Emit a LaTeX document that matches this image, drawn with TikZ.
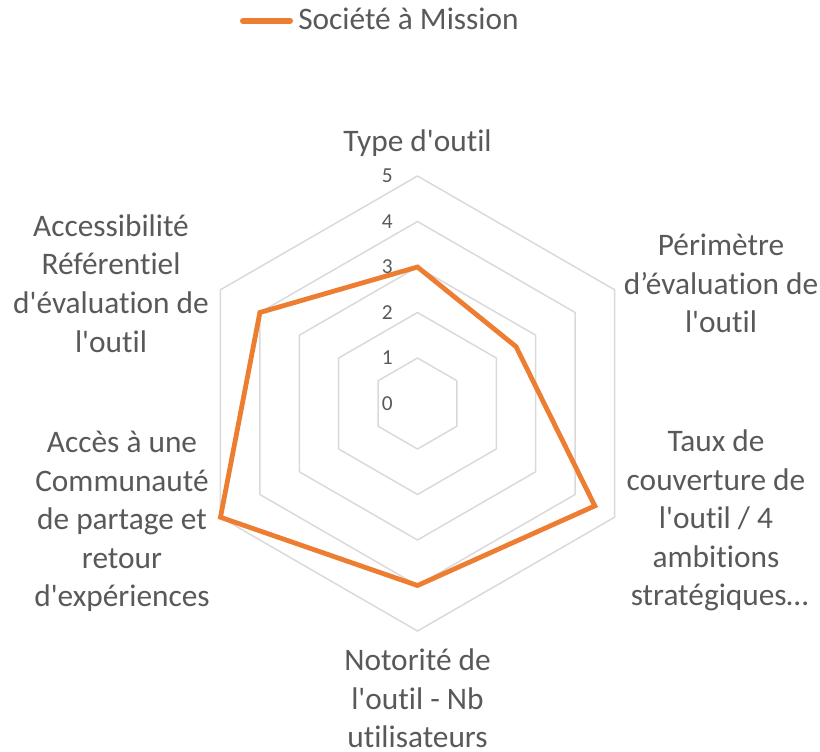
\documentclass[tikz,border=0pt]{standalone}
\usepackage{fontspec}
\setmainfont{Carlito}[Ligatures={TeXOff,NoCommon}]
\usetikzlibrary{positioning}

\definecolor{labelgrey}{HTML}{595959}
\definecolor{gridgrey}{HTML}{D9D9D9}
\definecolor{missionorange}{HTML}{ED7D31}

\tikzset{
	axislabel/.style={text=labelgrey,align=center,inner sep=0pt,font=\fontsize{23.5}{28.9}\selectfont},
	ticklabel/.style={text=labelgrey,anchor=east,inner sep=0pt,font=\fontsize{16}{19}\selectfont},
	gridline/.style={draw=gridgrey,line width=1.1pt,line join=round},
	seriesline/.style={draw=missionorange,line width=3.6pt}
}

\begin{document}
\begin{tikzpicture}[x=0.75pt,y=0.75pt]
		\useasboundingbox (0,0) rectangle (820,751);
		\coordinate (c) at (417.5,347.5);

		\foreach \v in {1,...,5}
			\draw[gridline,shift={(c)}] (90:\v*45.5) -- (30:\v*45.5) -- (-30:\v*45.5) -- (-90:\v*45.5) -- (-150:\v*45.5) -- (150:\v*45.5) -- cycle;
		\foreach \v in {0,...,5}
			\node[ticklabel] (tick\v) at ([shift={(-24.5,\v*45.5)}]c) {\v};

		\node[axislabel] (type) at (417.5,608) {Type d'outil};
		\node[axislabel] (perimetre) at (721,467.5)
			{
				Périmètre\\
				d’évaluation de\\
				l'outil
			};
		\node[axislabel] (taux) at (716,230.5)
			{
				Taux de\\
				couverture de\\
				l'outil / 4\\
				ambitions\\
				\ stratégiques…
			};
		\node[axislabel] (notoriete) at (417.5,52.5)
			{
				Notorité de\\
				l'outil - Nb\\
				utilisateurs
			};
		\node[axislabel] (acces) at (122,229.5)
			{
				Accès à une\\
				Communauté\\
				de partage et\\
				retour\\
				d'expériences
			};
		\node[axislabel] (accessibilite) at (111,467.5)
			{
				Accessibilité\\
				Référentiel\\
				d'évaluation de\\
				l'outil
			};

		\coordinate (vtype) at ([shift={(90:3*45.5)}]c);
		\coordinate (vperimetre) at ([shift={(30:2.5*45.5)}]c);
		\coordinate (vtaux) at ([shift={(-30:4.5*45.5)}]c);
		\coordinate (vnotoriete) at ([shift={(-90:4*45.5)}]c);
		\coordinate (vacces) at ([shift={(-150:5*45.5)}]c);
		\coordinate (vaccessibilite) at ([shift={(150:4*45.5)}]c);
		\draw[seriesline] (vtype) -- (vperimetre) -- (vtaux) -- (vnotoriete) -- (vacces) -- (vaccessibilite) -- cycle;

		\node[axislabel,anchor=base west] (legend) at (298,721) {Société à Mission};
		\coordinate (legstart) at (243,730.3);
		\draw[missionorange,line width=4.5pt,line cap=round] (legstart) -- ([xshift=-6pt]legend.west |- legstart);
\end{tikzpicture}
\end{document}
